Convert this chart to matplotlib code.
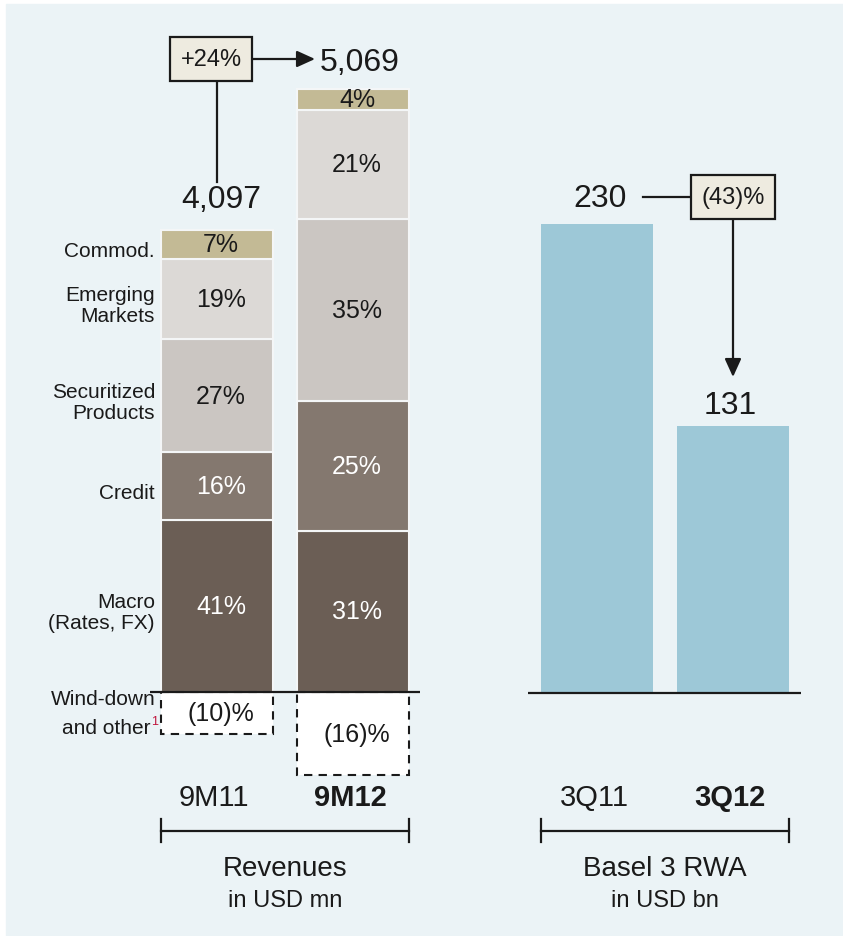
import matplotlib.pyplot as plt
from matplotlib.patches import Rectangle

plt.rcParams['font.family'] = ['Liberation Sans', 'DejaVu Sans']

# revenues, in USD mn
rev_periods = ['9M11', '9M12']
rev_totals = [4097, 5069]
rev_growth = '+24%'
segments = ['Macro\n(Rates, FX)', 'Credit', 'Securitized\nProducts', 'Emerging\nMarkets', 'Commod.']
share_9m11 = [41, 16, 27, 19, 7]
share_9m12 = [31, 25, 35, 21, 4]
other_share = [-10, -16]

# Basel 3 RWA, in USD bn
rwa_periods = ['3Q11', '3Q12']
rwa_values = [230, 131]
rwa_change = '(43)%'

seg_colors = ['#6b5e55', '#84786f', '#cbc6c2', '#dcd9d6', '#c3ba95']
seg_txt = ['white', 'white', '#1a1a1a', '#1a1a1a', '#1a1a1a']
ink = '#1a1a1a'
panel = '#ebf3f6'
box_fc = '#eeebe0'
rwa_color = '#9dc8d7'

W, H = 843, 937
fig = plt.figure(figsize=(W / 100, H / 100), dpi=100)
fig.patches.append(Rectangle((6 / W, -0.01), 1, (H - 5) / H + 0.01, transform=fig.transFigure,
                             color=panel, zorder=-10))

bw = 112 / 136

# ---- left panel: revenues ----
ax1 = fig.add_axes([150 / W, 0, 270 / W, 1])
k1 = 0.1026  # px per USD mn
ax1.set_xlim(-67 / 136, 203 / 136)
ax1.set_ylim(-(H - 693) / k1, 693 / k1)
ax1.axis('off')

def lx(px):
    return (px - 217) / 136

def ly(py):
    return (693 - py) / k1

for i, shares in enumerate([share_9m11, share_9m12]):
    bottom = 0
    for j, s in enumerate(shares):
        h = s * rev_totals[i] / 100
        ax1.bar(i, h, bottom=bottom, width=bw, color=seg_colors[j],
                edgecolor='#f4f6f7', linewidth=1.5, zorder=2)
        ax1.text(i + 0.03, bottom + h / 2, f'{s}%', ha='center', va='center',
                 fontsize=18, color=seg_txt[j], zorder=4)
        if i == 0:
            ax1.text(lx(155), bottom + h / 2 - 6 / k1, segments[j], ha='right', va='center',
                     fontsize=15, color=ink, linespacing=1.15)
        bottom += h
    oh = other_share[i] * rev_totals[i] / 100
    ax1.bar(i, oh, width=bw, color='white', edgecolor=ink, linewidth=1.5,
            linestyle=(0, (4, 3)), zorder=2)
    ax1.text(i + 0.03, oh / 2, f'({-other_share[i]})%', ha='center', va='center',
             fontsize=18, color=ink, zorder=4)

ax1.axhline(0, color=ink, lw=1.6, zorder=5)

# wind-down label with footnote
ax1.text(lx(156), ly(700), 'Wind-down', ha='right', va='center', fontsize=15, color=ink)
ax1.text(lx(150), ly(729), 'and other', ha='right', va='center', fontsize=15, color=ink)
ax1.text(lx(151), ly(722), '1', ha='left', va='center', fontsize=9, color='#c0143c')

# totals and growth annotation
ax1.text(lx(221), ly(200), f'{rev_totals[0]:,}', ha='center', va='center', fontsize=23, color=ink)
ax1.text(lx(320), ly(63), f'{rev_totals[1]:,}', ha='left', va='center', fontsize=23, color=ink)
ax1.plot([lx(217), lx(217)], [ly(60), ly(183)], color=ink, lw=1.6, zorder=1)
ax1.annotate('', xy=(lx(315), ly(60)), xytext=(lx(212), ly(60)), zorder=1,
             arrowprops=dict(arrowstyle='-|>,head_length=0.55,head_width=0.25', color=ink,
                             lw=1.6, mutation_scale=20, shrinkA=0, shrinkB=0))
ax1.text(lx(211), ly(60), rev_growth, ha='center', va='center', fontsize=17, color=ink,
         zorder=6, bbox=dict(boxstyle='square,pad=0.45', fc=box_fc, ec=ink, lw=1.6))

# period labels and bracket
for i, p in enumerate(rev_periods):
    ax1.text(i - 0.02, ly(798), p, ha='center', va='center', fontsize=21, color=ink,
             fontweight='bold' if i == 1 else 'normal')
x0, x1 = -bw / 2, 1 + bw / 2
ax1.plot([x0, x1], [ly(832), ly(832)], color=ink, lw=1.6)
for xe in (x0, x1):
    ax1.plot([xe, xe], [ly(820), ly(843)], color=ink, lw=1.6)
ax1.text((x0 + x1) / 2, ly(869), 'Revenues', ha='center', va='center', fontsize=20, color=ink)
ax1.text((x0 + x1) / 2, ly(901), 'in USD mn', ha='center', va='center', fontsize=17, color=ink)

# ---- right panel: RWA ----
ax2 = fig.add_axes([528 / W, 0, 273 / W, 1])
k2 = 2.04  # px per USD bn
ax2.set_xlim(-69 / 136, 204 / 136)
ax2.set_ylim(-(H - 694) / k2, 694 / k2)
ax2.axis('off')

def rx(px):
    return (px - 597) / 136

def ry(py):
    return (694 - py) / k2

ax2.bar(range(len(rwa_values)), rwa_values, width=bw, color=rwa_color, zorder=2)
ax2.axhline(0, color=ink, lw=1.6, zorder=5)

ax2.text(0.02, rwa_values[0] + 26 / k2, f'{rwa_values[0]}', ha='center', va='center',
         fontsize=23, color=ink)
ax2.text(0.98, rwa_values[1] + 21 / k2, f'{rwa_values[1]}', ha='center', va='center',
         fontsize=23, color=ink)
ax2.plot([rx(643), rx(733)], [ry(198), ry(198)], color=ink, lw=1.6, zorder=1)
ax2.annotate('', xy=(rx(733), ry(378)), xytext=(rx(733), ry(198)), zorder=1,
             arrowprops=dict(arrowstyle='-|>,head_length=0.55,head_width=0.25', color=ink,
                             lw=1.6, mutation_scale=20, shrinkA=0, shrinkB=0))
ax2.text(rx(733), ry(198), rwa_change, ha='center', va='center', fontsize=17, color=ink,
         zorder=6, bbox=dict(boxstyle='square,pad=0.45', fc=box_fc, ec=ink, lw=1.6))

for i, p in enumerate(rwa_periods):
    ax2.text(i - 0.02, ry(798), p, ha='center', va='center', fontsize=21, color=ink,
             fontweight='bold' if i == 1 else 'normal')
x0, x1 = -bw / 2, 1 + bw / 2
ax2.plot([x0, x1], [ry(832), ry(832)], color=ink, lw=1.6)
for xe in (x0, x1):
    ax2.plot([xe, xe], [ry(820), ry(843)], color=ink, lw=1.6)
ax2.text((x0 + x1) / 2, ry(869), 'Basel 3 RWA', ha='center', va='center', fontsize=20, color=ink)
ax2.text((x0 + x1) / 2, ry(901), 'in USD bn', ha='center', va='center', fontsize=17, color=ink)

fig.savefig('out.png', dpi=100, facecolor='white')
